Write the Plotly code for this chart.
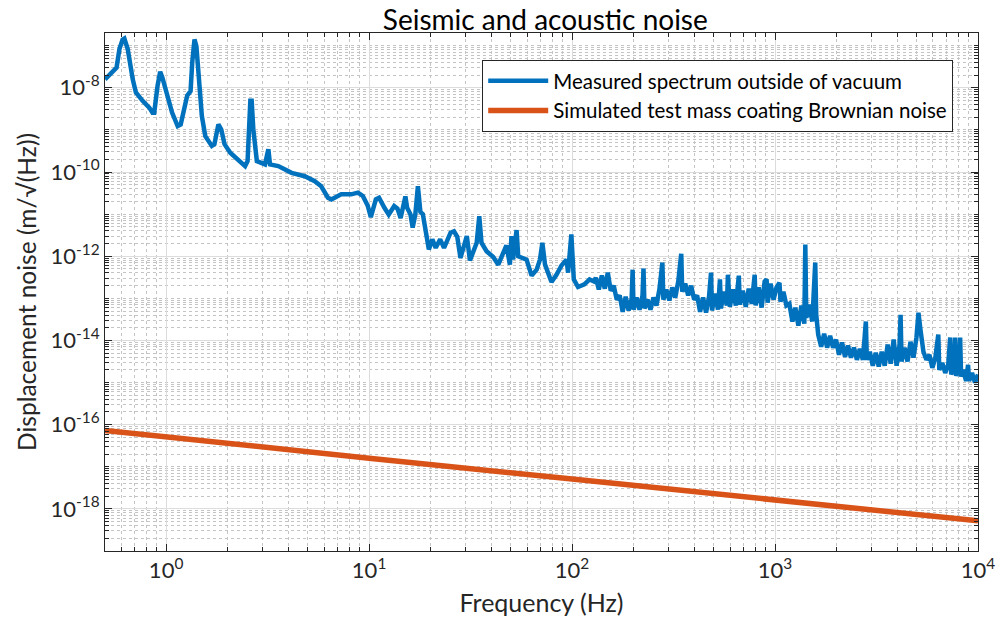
import numpy as np
import plotly.graph_objects as go

# ---- Measured spectrum outside of vacuum (frequency in Hz, log10 of displacement noise) ----
freq_measured = [
    0.50, 0.57, 0.589, 0.61, 0.623, 0.647, 0.685, 0.71, 0.766, 0.826, 0.857, 0.874,
    0.907, 0.935, 0.959, 1.015, 1.07, 1.14, 1.18, 1.27, 1.32, 1.345, 1.38, 1.41,
    1.45, 1.50, 1.56, 1.68, 1.73, 1.81, 1.87, 1.94, 2.07, 2.27, 2.45, 2.52,
    2.60, 2.64, 2.69, 2.80, 3.07, 3.19, 3.25, 3.57, 4.15, 4.82, 5.40, 5.81,
    6.27, 6.52, 6.76, 7.29, 7.55, 8.16, 8.81, 9.32, 9.85, 10.2, 10.8, 11.2,
    11.9, 12.5, 13.3, 13.8, 14.3, 14.9, 15.1, 15.4, 16.0, 16.4, 16.9, 17.4,
    17.9, 18.4, 19.2, 19.7, 20.5, 21.3, 22.4, 23.4, 24.2, 25.2, 26.2, 27.2,
    28.2, 29.2, 30.3, 31.4, 32.6, 33.9, 34.9, 35.8, 37.9, 40.9, 43.3, 45.8,
    47.5, 49.4, 50.3, 51.2, 53.3, 54.3, 57.5, 59.7, 63.2, 66.9, 69.5, 71.4,
    73.6, 79.2, 83.8, 88.7, 93.9, 95.6, 99.2, 102, 107, 115, 122, 128.5,
    131.0, 135.5, 140.2, 145.0, 150.0, 155.1, 160.5, 166.0, 171.7, 177.6, 183.7, 190.0,
    196.6, 198.8, 201.0, 207.9, 215.0, 222.4, 224.9, 227.5, 235.3, 243.4, 251.8, 260.4,
    269.4, 278.6, 281.8, 291.4, 301.5, 311.8, 322.5, 333.6, 345.1, 349.0, 361.0, 373.4,
    386.2, 399.5, 413.2, 427.4, 442.1, 457.3, 473.0, 483.8, 489.3, 506.1, 523.5, 535.4,
    541.5, 560.1, 579.3, 585.9, 599.3, 619.8, 641.1, 663.2, 670.7, 693.7, 717.5, 742.2,
    767.7, 794.0, 803.0, 830.6, 859.1, 888.7, 908.9, 919.2, 950.6, 983.3, 1017, 1052,
    1064, 1100, 1138, 1177, 1218, 1259, 1303, 1348, 1394, 1410, 1426, 1475,
    1526, 1578, 1596, 1632, 1688, 1746, 1806, 1868, 1932, 1998, 2067, 2138,
    2212, 2288, 2366, 2448, 2532, 2619, 2709, 2802, 2834, 2931, 3032, 3136,
    3243, 3355, 3470, 3589, 3713, 3841, 3972, 4109, 4155, 4202, 4346, 4496,
    4650, 4810, 4975, 5089, 5205, 5384, 5569, 5760, 5958, 6162, 6374, 6446,
    6668, 6897, 7133, 7296, 7379, 7632, 7718, 7805, 8074, 8166, 8258, 8446,
    8736, 8936, 9036, 9347, 9667, 10000,
]
noise_measured_log10 = [
    -7.80, -7.52, -7.08, -6.86, -6.83, -7.08, -7.80, -8.11, -8.31, -8.47, -8.59, -8.59,
    -7.96, -7.62, -7.76, -8.19, -8.59, -8.91, -8.87, -8.19, -8.08, -7.40, -6.85, -7.01,
    -7.80, -8.67, -9.15, -9.38, -9.34, -8.87, -8.99, -9.34, -9.54, -9.70, -9.86, -9.74,
    -8.31, -8.31, -8.99, -9.74, -9.82, -9.46, -9.82, -9.86, -10.02, -10.10, -10.22, -10.34,
    -10.61, -10.65, -10.61, -10.53, -10.53, -10.53, -10.49, -10.57, -10.80, -11.07, -10.65, -10.61,
    -10.85, -11.01, -10.81, -10.87, -11.09, -10.59, -10.58, -10.85, -11.01, -11.32, -11.01, -10.34,
    -10.95, -11.00, -11.55, -11.84, -11.60, -11.80, -11.60, -11.80, -11.64, -11.44, -11.41, -11.54,
    -12.04, -11.76, -11.52, -12.10, -11.86, -11.68, -11.05, -11.68, -11.88, -12.02, -12.20, -11.88,
    -11.74, -12.20, -11.52, -12.08, -11.38, -12.00, -12.04, -12.08, -12.46, -12.32, -12.08, -11.68,
    -12.20, -12.61, -12.44, -12.22, -12.08, -12.39, -11.48, -12.55, -12.73, -12.67, -12.55, -12.60,
    -12.51, -12.79, -12.46, -12.77, -12.39, -12.82, -12.70, -13.03, -12.93, -13.32, -12.96, -13.29,
    -13.01, -12.32, -13.27, -12.98, -13.27, -12.93, -12.29, -13.24, -13.03, -13.27, -12.98, -13.17,
    -12.79, -12.15, -13.03, -12.79, -13.05, -12.74, -12.98, -12.60, -11.94, -12.84, -12.65, -12.93,
    -12.70, -13.03, -12.93, -13.32, -12.98, -13.34, -12.96, -12.39, -13.29, -12.89, -13.27, -12.55,
    -13.24, -12.84, -13.17, -12.44, -13.20, -12.79, -13.17, -12.46, -13.15, -12.82, -13.20, -12.77,
    -13.13, -12.44, -13.17, -12.74, -13.22, -12.60, -12.55, -13.10, -12.65, -13.03, -12.74, -12.63,
    -13.08, -12.84, -13.17, -13.13, -13.55, -13.22, -13.65, -13.17, -13.60, -11.72, -13.46, -13.15,
    -13.55, -12.15, -13.39, -13.86, -14.15, -13.84, -14.17, -13.89, -14.17, -13.98, -14.34, -14.05,
    -14.39, -14.12, -14.41, -14.17, -14.46, -14.20, -14.46, -13.55, -14.46, -14.27, -14.60, -14.29,
    -14.62, -14.27, -14.60, -14.10, -14.55, -13.98, -14.60, -14.10, -13.39, -14.50, -14.17, -14.50,
    -14.03, -14.41, -13.93, -13.34, -13.74, -14.27, -14.46, -14.34, -14.65, -14.41, -13.86, -14.70,
    -14.53, -14.77, -14.58, -13.93, -14.81, -14.60, -13.93, -14.84, -14.65, -13.93, -14.86, -14.70,
    -14.96, -14.58, -14.96, -14.77, -15.00, -14.81,
]

# ---- Simulated test mass coating Brownian noise ----
freq_coating = [0.5, 1, 10, 100, 1000, 10000]
noise_coating = [7.3e-17, 5.1e-17, 1.6e-17, 5.1e-18, 1.6e-18, 5.2e-19]

# ---- Axis ticks ----
x_tickvals = [1, 10, 100, 1000, 10000]
x_ticktext = ["10<sup>0</sup>", "10<sup>1</sup>", "10<sup>2</sup>", "10<sup>3</sup>", "10<sup>4</sup>"]
y_tickvals = [1e-18, 1e-16, 1e-14, 1e-12, 1e-10, 1e-8]
y_ticktext = ["10<sup>-18</sup>", "10<sup>-16</sup>", "10<sup>-14</sup>", "10<sup>-12</sup>",
              "10<sup>-10</sup>", "10<sup>-8</sup>"]

x_minor = [k * 10.0 ** n for n in range(-1, 4) for k in range(1, 10)
           if k * 10.0 ** n not in x_tickvals and k * 10.0 ** n >= 0.5]
y_minor = [k * 10.0 ** n for n in range(-19, -6) for k in range(1, 10)
           if not (k == 1 and n % 2 == 0)]

FONT = "Lato"
AXC = "#262626"

fig = go.Figure()
fig.add_trace(go.Scatter(
    x=freq_measured, y=10.0 ** np.array(noise_measured_log10), mode="lines",
    name="Measured spectrum outside of vacuum",
    line=dict(color="#0072BD", width=4.5),
))
fig.add_trace(go.Scatter(
    x=freq_coating, y=noise_coating, mode="lines",
    name="Simulated test mass coating Brownian noise",
    line=dict(color="#D95319", width=5.5),
))

axis_common = dict(
    type="log", showline=True, linecolor=AXC, linewidth=1, mirror="allticks",
    ticks="inside", ticklen=7, tickcolor=AXC, tickfont=dict(family=FONT, size=22, color=AXC),
    showgrid=True, gridcolor="#dcdcdc", gridwidth=1, zeroline=False,
)

fig.update_layout(
    width=1007, height=628,
    margin=dict(l=105, r=21, t=33, b=77),
    paper_bgcolor="white", plot_bgcolor="white",
    title=dict(text="Seismic and acoustic noise", x=0.5415, xanchor="center",
               y=0.968, yanchor="middle", font=dict(family=FONT, size=28, color="black")),
    xaxis=dict(
        **axis_common,
        range=[np.log10(0.5), 4],
        tickmode="array", tickvals=x_tickvals, ticktext=x_ticktext,
        title=dict(text="Frequency (Hz)", font=dict(family=FONT, size=25, color=AXC), standoff=12),
        minor=dict(tickmode="array", tickvals=x_minor, ticks="inside", ticklen=4, tickcolor=AXC,
                   showgrid=True, gridcolor="#c4c4c4", griddash="dot", gridwidth=1),
    ),
    yaxis=dict(
        **axis_common,
        range=[-19, np.log10(2e-7)],
        tickmode="array", tickvals=y_tickvals, ticktext=y_ticktext,
        title=dict(text="Displacement noise (m/√(Hz))", font=dict(family=FONT, size=24.5, color=AXC),
                   standoff=6),
        minor=dict(tickmode="array", tickvals=y_minor, ticks="inside", ticklen=4, tickcolor=AXC,
                   showgrid=True, gridcolor="#c4c4c4", griddash="dot", gridwidth=1),
    ),
    legend=dict(
        x=0.9716, xanchor="right", y=0.948, yanchor="top",
        bgcolor="white", bordercolor=AXC, borderwidth=1,
        font=dict(family=FONT, size=20.5, color="black"),
        itemwidth=60, tracegroupgap=0,
    ),
    showlegend=True,
)

fig.write_html("out.html")
